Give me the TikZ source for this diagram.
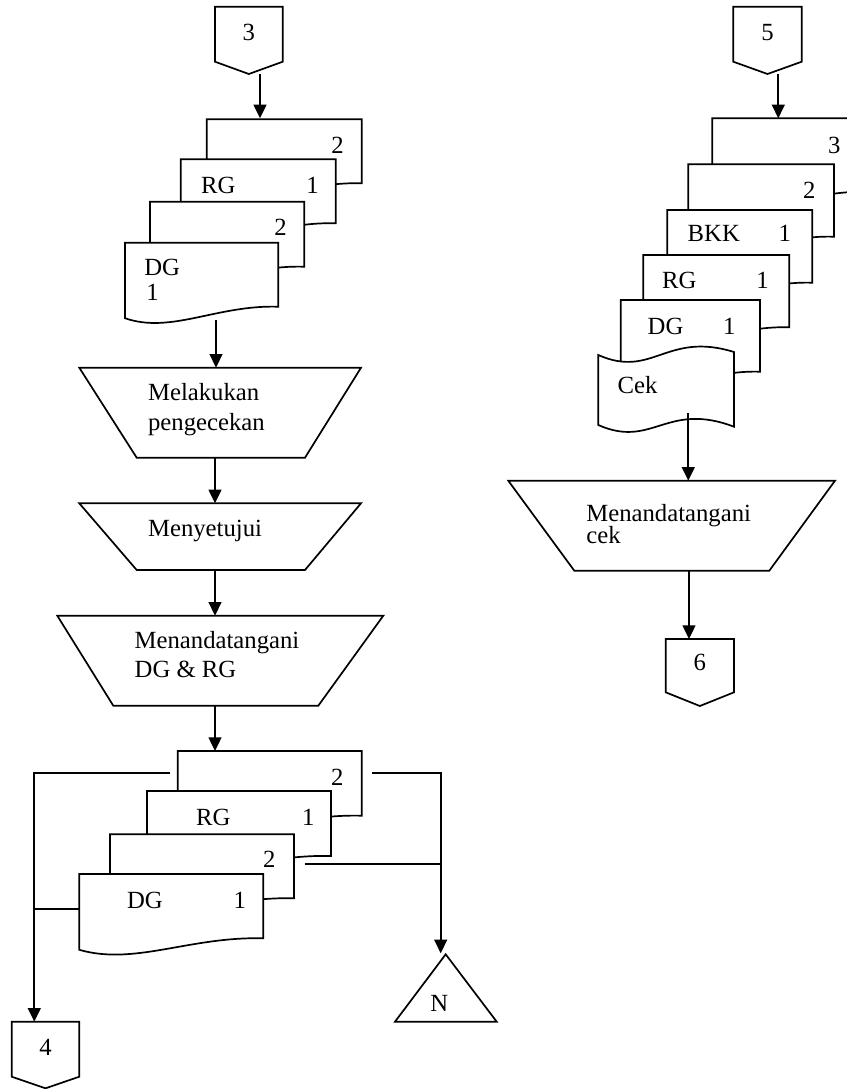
\documentclass[tikz,border=0pt]{standalone}
\usepackage{fontspec}
\setmainfont{Liberation Serif}
\usetikzlibrary{arrows.meta}

% document symbol: top-left (#1,#2), right edge down to #4, wavy bottom
\newcommand\flowdoc[4]{%
  \filldraw[shapeline] (#1,#2) -- (#3,#2) -- (#3,#4)
    .. controls ({#3-0.4*(#3-#1)},{#4-2}) and ({#1+0.3*(#3-#1)},{#4+27.5}) ..
    (#1,{#4+11.5}) -- cycle;}

% off-page connector: box from x #1 to #2, top #3, sides end at #4, point at #5
\newcommand\offpage[5]{%
  \filldraw[shapeline] (#1,#3) -- (#2,#3) -- (#2,#4) -- ({(#1+#2)/2},#5) -- (#1,#4) -- cycle;}

% manual operation: top y #1 from #2 to #3, bottom y #4 from #5 to #6
\newcommand\manualop[6]{%
  \filldraw[shapeline] (#2,#1) -- (#3,#1) -- (#6,#4) -- (#5,#4) -- cycle;}

\tikzset{
  shapeline/.style={draw=black, fill=white, line width=0.85pt, line join=miter},
  flow/.style={draw=black, line width=0.85pt, -{Triangle[length=6.8pt,width=6.4pt]}},
  link/.style={draw=black, line width=0.85pt},
  txt/.style={inner sep=0pt, anchor=base west, font=\fontsize{12.35}{15}\selectfont},
  ctxt/.style={inner sep=0pt, anchor=base, font=\fontsize{12.35}{15}\selectfont},
}

\begin{document}
\begin{tikzpicture}[x=0.5pt, y=-0.5pt]
\useasboundingbox (0,0) rectangle (847,1089);

%------------------------------------------------ left column
\offpage{215}{282.7}{6.7}{61.7}{74}
\node[ctxt] (t3) at (248.8,40) {3};

% stack DG/RG received
\flowdoc{206.7}{119.3}{361.7}{183.3}
\flowdoc{180.7}{159.3}{335.7}{223.3}
\flowdoc{150}{201.7}{304.3}{266.7}
\flowdoc{125}{242.7}{278.3}{306.7}
\node[txt] (s1a) at (331,153.3) {2};
\node[txt] (s1b) at (200.7,193.3) {RG};
\node[txt] (s1c) at (306,193.3) {1};
\node[txt] (s1d) at (274,235) {2};
\node[txt] (s1e) at (144,275) {DG};
\node[txt] (s1f) at (146,300) {1};

\coordinate (c3out) at (260,74);
\coordinate (s1in) at (260,118.3);
\coordinate (s1out) at (216,320);

% manual operations
\manualop{367.7}{79.3}{361}{457.7}{136.7}{305}
\node[txt] (m1a) at (147.7,400) {Melakukan};
\node[txt] (m1b) at (147.7,430) {pengecekan};
\coordinate (m1in) at (216,367.7);
\coordinate (m1out) at (215,457.7);

\manualop{503.3}{79.3}{361}{570}{136.7}{305}
\node[txt] (m2a) at (147.7,536) {Menyetujui};
\coordinate (m2in) at (215,503.3);
\coordinate (m2out) at (215,570);

\manualop{615.7}{57.3}{383.3}{705.7}{113.3}{318.3}
\node[txt] (m3a) at (134.3,648.3) {Menandatangani};
\node[txt] (m3b) at (134.3,677.7) {DG \& RG};
\coordinate (m3in) at (215,615.7);
\coordinate (m3out) at (215,705.7);

% stack of signed documents
\flowdoc{177.7}{751}{361.7}{815.7}
\flowdoc{147}{791}{331}{856}
\flowdoc{110}{834.3}{294}{898.3}
\flowdoc{79.3}{874}{263.3}{938.3}
\node[txt] (s2a) at (330.7,785) {2};
\node[ctxt] (s2b) at (213.3,825) {RG};
\node[txt] (s2c) at (301.7,825) {1};
\node[txt] (s2d) at (262.7,867.7) {2};
\node[ctxt] (s2e) at (145,908.3) {DG};
\node[txt] (s2f) at (233.3,908.3) {1};
\coordinate (s2in) at (215,751);

% off-page connector 4 and file N
\offpage{11.7}{79.3}{1021.7}{1076.7}{1088.3}
\node[ctxt] (t4) at (45.5,1055) {4};
\filldraw[shapeline] (445.7,954.3) -- (496.7,1021.7) -- (395,1021.7) -- cycle;
\node[ctxt] (tN) at (439.3,1011) {N};

\coordinate (lA) at (170,773.3);
\coordinate (lcorner) at (34.3,773.3);
\coordinate (c4in) at (34.3,1021.7);
\coordinate (lD) at (79.3,909.3);
\coordinate (jL) at (34.3,909.3);
\coordinate (rA) at (372.3,773.3);
\coordinate (rcorner) at (440.7,773.3);
\coordinate (nin) at (440.7,953.3);
\coordinate (rC) at (305,864.3);
\coordinate (jR) at (440.7,864.3);

\draw[flow] (c3out) -- (s1in);
\draw[flow] (s1out) -- (m1in);
\draw[flow] (m1out) -- (m2in);
\draw[flow] (m2out) -- (m3in);
\draw[flow] (m3out) -- (s2in);
\draw[flow] (lA) -- (lcorner) -- (c4in);
\draw[link] (lD) -- (jL);
\draw[flow] (rA) -- (rcorner) -- (nin);
\draw[link] (rC) -- (jR);

%------------------------------------------------ right column
\offpage{733.3}{801.7}{6.7}{61.7}{74}
\node[ctxt] (t5) at (767.5,40) {5};

\flowdoc{712.3}{118.3}{870}{191.7}
\flowdoc{688.3}{164.3}{834}{236.7}
\flowdoc{667.3}{210}{812.3}{282.7}
\flowdoc{643.3}{255}{789.3}{327.3}
\flowdoc{620.7}{300}{760}{371.7}
\node[txt] (r1) at (827.7,153.3) {3};
\node[txt] (r2) at (802.7,198.3) {2};
\node[txt] (r3a) at (687.3,241.7) {BKK};
\node[txt] (r3b) at (778.3,241.7) {1};
\node[txt] (r4a) at (661.7,288.3) {RG};
\node[txt] (r4b) at (756,288.3) {1};
\node[txt] (r5a) at (647.3,334) {DG};
\node[txt] (r5b) at (722.7,334) {1};

% cheque (punched tape)
\filldraw[shapeline] (598.3,355)
  .. controls ({598.3+0.4*135.7},379) and ({598.3+0.5*135.7},331) .. (734,352)
  -- (734,426.7)
  .. controls ({598.3+0.5*135.7},401) and ({598.3+0.4*135.7},449) .. (598.3,425)
  -- cycle;
\node[txt] (cek) at (617.3,393.3) {Cek};

\coordinate (c5out) at (778.3,74);
\coordinate (r1in) at (778.3,118.3);
\coordinate (cekout) at (688.3,413);

\manualop{480.7}{508.3}{835}{570.7}{574.3}{769.3}
\node[txt] (m4a) at (586,521.7) {Menandatangani};
\node[txt] (m4b) at (586,543.3) {cek};
\coordinate (m4in) at (688.3,480.7);
\coordinate (m4out) at (689,570.7);

\offpage{665.7}{734}{639}{692.3}{706}
\node[ctxt] (t6) at (699.8,670.7) {6};
\coordinate (c6in) at (689,639);

\draw[flow] (c5out) -- (r1in);
\draw[flow] (cekout) -- (m4in);
\draw[flow] (m4out) -- (c6in);
\end{tikzpicture}
\end{document}
